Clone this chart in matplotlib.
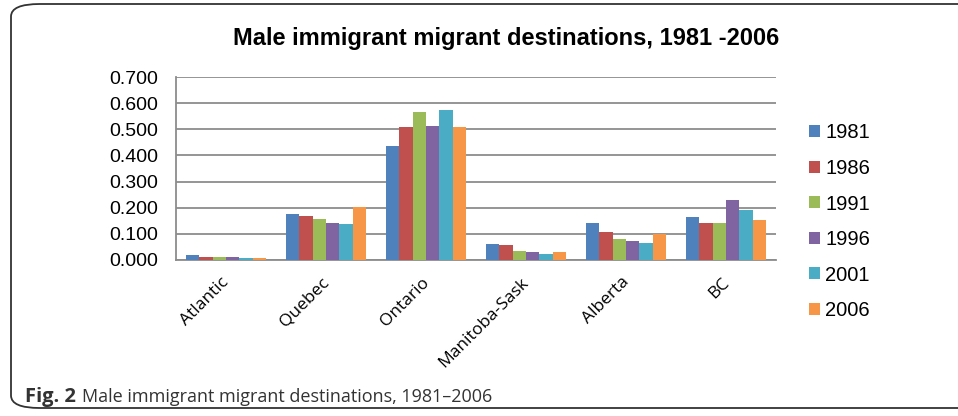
import matplotlib.pyplot as plt
import numpy as np
from matplotlib.patches import FancyBboxPatch
from matplotlib.ticker import MultipleLocator, FormatStrFormatter


regions = ['Atlantic', 'Quebec', 'Ontario', 'Manitoba-Sask', 'Alberta', 'BC']
years = ['1981', '1986', '1991', '1996', '2001', '2006']

y1981 = [0.019, 0.176, 0.435, 0.061, 0.141, 0.164]
y1986 = [0.013, 0.168, 0.510, 0.057, 0.107, 0.140]
y1991 = [0.010, 0.156, 0.567, 0.036, 0.080, 0.142]
y1996 = [0.010, 0.141, 0.511, 0.031, 0.073, 0.228]
y2001 = [0.006, 0.137, 0.573, 0.023, 0.065, 0.192]
y2006 = [0.009, 0.201, 0.508, 0.029, 0.098, 0.153]

COLORS = ['#4F81BD', '#C0504D', '#9BBB59', '#8064A2', '#4BACC6', '#F79646']

series = [y1981, y1986, y1991, y1996, y2001, y2006]

fig = plt.figure(figsize=(9.58, 4.16), dpi=100)
W, H = 958, 416

# rounded frame around the figure (runs off the right edge)
frame = FancyBboxPatch((11 / W, 8 / H), 990 / W, 404 / H,
                       boxstyle='round,pad=0,rounding_size=0.03',
                       transform=fig.transFigure, fill=False,
                       edgecolor='#333333', linewidth=1.3, clip_on=False)
fig.patches.append(frame)

ax = fig.add_axes([176 / W, 1 - 260 / H, 600 / W, 183 / H])

x = np.arange(len(regions))
n = len(series)
bar_w = 0.8 / n
for i, vals in enumerate(series):
    ax.bar(x - 0.4 + bar_w * (i + 0.5), vals, width=bar_w, color=COLORS[i],
           edgecolor='none', label=years[i], zorder=3)

ax.set_xlim(-0.5, len(regions) - 0.5)
ax.set_ylim(0, 0.7)
ax.yaxis.set_major_locator(MultipleLocator(0.1))
ax.yaxis.set_major_formatter(FormatStrFormatter('%.3f'))
ax.yaxis.grid(color='#8c8c8c', linewidth=1.3, zorder=0)
ax.set_axisbelow(True)
for side in ['top', 'right']:
    ax.spines[side].set_visible(False)
for side in ['left', 'bottom']:
    ax.spines[side].set_color('#8c8c8c')
    ax.spines[side].set_linewidth(1.3)

ax.tick_params(axis='y', length=0, pad=13, labelsize=14)
for lab in ax.get_yticklabels():
    lab.set_fontfamily('Liberation Sans')

ax.set_xticks(x)
ax.set_xticklabels([])
ax.tick_params(axis='x', length=0)
for xi, name in zip(x, regions):
    ax.text(xi - 0.05, -0.055, name, rotation=45, ha='right', va='top',
            rotation_mode='anchor', fontsize=12.5, family='Open Sans',
            clip_on=False)

leg = ax.legend(loc='upper left', bbox_to_anchor=(615 / 600, 0.845),
                frameon=False, handlelength=0.55, handleheight=0.55,
                handletextpad=0.25, labelspacing=0.82,
                prop={'family': 'Liberation Sans', 'size': 14.5})

fig.text(506 / W, 1 - 38 / H, 'Male immigrant migrant destinations, 1981 -2006',
         ha='center', va='center', fontsize=17, fontweight='bold',
         family='Liberation Sans')

fig.text(25 / W, 1 - 397 / H, 'Fig. 2', ha='left', va='center',
         fontsize=14.5, family='Open Sans', fontweight='bold', color='#333333')
fig.text(82 / W, 1 - 397 / H, 'Male immigrant migrant destinations, 1981\u20132006',
         ha='left', va='center', fontsize=13, family='Open Sans',
         color='#333333')

fig.savefig('out.png', dpi=100)
